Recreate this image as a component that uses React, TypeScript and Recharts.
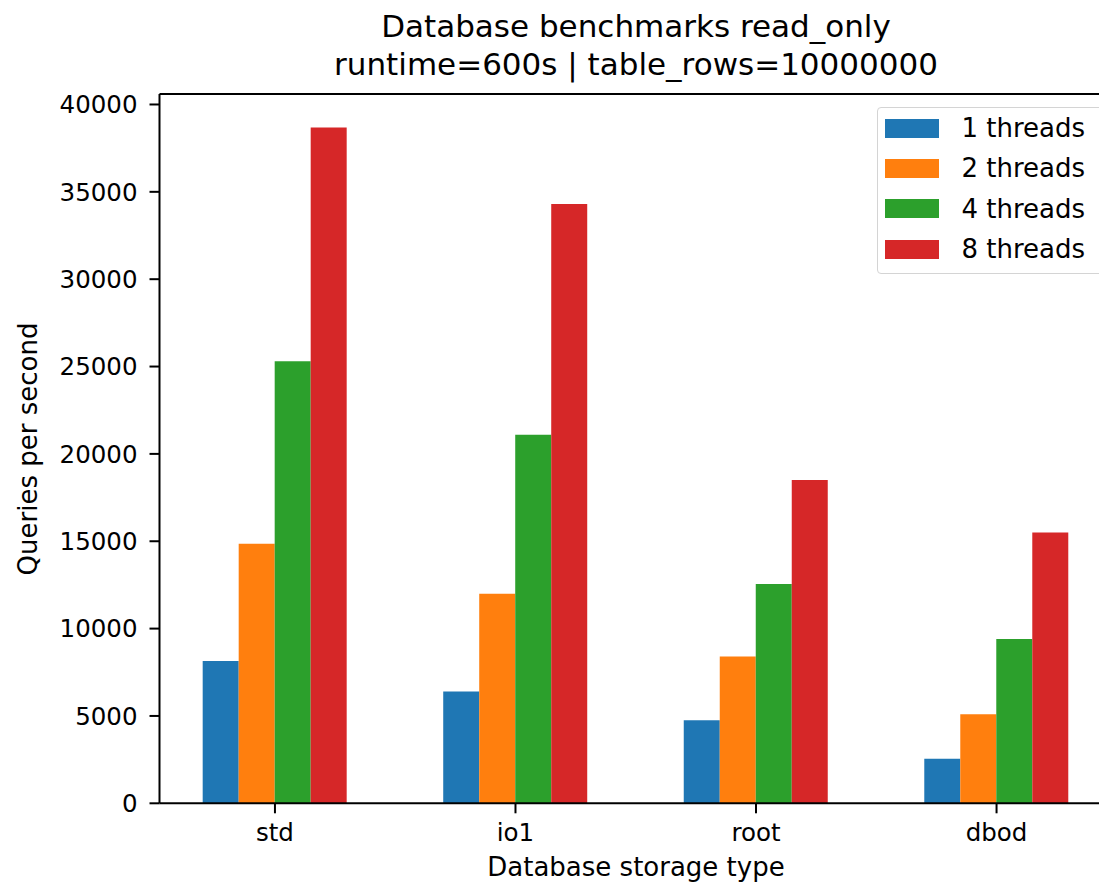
import { BarChart, Bar, XAxis, YAxis, ReferenceLine } from 'recharts';

// ─── Data ─────────────────────────────────────────────────────────────────────

const categories = ['std', 'io1', 'root', 'dbod'];
const threads1 = [8150, 6400, 4750, 2550];
const threads2 = [14850, 12000, 8400, 5100];
const threads4 = [25300, 21100, 12550, 9400];
const threads8 = [38680, 34300, 18500, 15500];
const seriesNames = ['1 threads', '2 threads', '4 threads', '8 threads'];
const yTicks = [0, 5000, 10000, 15000, 20000, 25000, 30000, 35000, 40000];
const xTicks = [0, 1, 2, 3];

// ─── Style ────────────────────────────────────────────────────────────────────

const COLORS = ['#1f77b4', '#ff7f0e', '#2ca02c', '#d62728'];
const FONT = '"DejaVu Sans", Verdana, sans-serif';
const Y_MAX = 40600;
const X_MIN = -0.48;
const X_MAX = 3.48;

const tableData = categories.map((name, i) => ({
  idx: i,
  name,
  t1: threads1[i],
  t2: threads2[i],
  t4: threads4[i],
  t8: threads8[i],
}));

const seriesKeys = ['t1', 't2', 't4', 't8'];

export default function App() {
  return (
    <div
      style={{
        position: 'absolute',
        left: 0,
        top: 0,
        width: 1099,
        height: 889,
        overflow: 'hidden',
        background: '#fff',
        fontFamily: FONT,
        color: '#000',
      }}
    >
      {/* Title */}
      <div
        style={{
          position: 'absolute',
          left: 136,
          width: 1000,
          top: 7,
          textAlign: 'center',
          fontSize: 31,
          lineHeight: '38px',
        }}
      >
        <div>Database benchmarks read_only</div>
        <div>runtime=600s | table_rows=10000000</div>
      </div>

      <BarChart
        width={1130}
        height={889}
        data={tableData}
        barGap={0}
        barSize={36}
        margin={{ top: 94, right: 18, bottom: 45.7, left: 99.5 }}
      >
        <XAxis
          dataKey="idx"
          type="number"
          domain={[X_MIN, X_MAX]}
          ticks={xTicks}
          interval={0}
          allowDataOverflow
          height={40}
          tickFormatter={(v: number) => categories[v] ?? ''}
          tick={{ fill: '#000', fontSize: 24.5, fontFamily: FONT }}
          tickSize={10}
          tickMargin={10}
          axisLine={{ stroke: '#000', strokeWidth: 2 }}
          tickLine={{ stroke: '#000', strokeWidth: 2 }}
        />
        <YAxis
          type="number"
          domain={[0, Y_MAX]}
          ticks={yTicks}
          width={60}
          allowDataOverflow
          tickFormatter={(v: number) => String(v)}
          tick={{ fill: '#000', fontSize: 24.5, fontFamily: FONT }}
          tickSize={10}
          tickMargin={12}
          axisLine={{ stroke: '#000', strokeWidth: 2 }}
          tickLine={{ stroke: '#000', strokeWidth: 2 }}
        />
        <ReferenceLine y={Y_MAX} stroke="#000" strokeWidth={2} />
        <ReferenceLine x={X_MAX} stroke="#000" strokeWidth={2} />
        {seriesKeys.map((key, i) => (
          <Bar
            key={key}
            dataKey={key}
            name={seriesNames[i]}
            fill={COLORS[i]}
            isAnimationActive={false}
          />
        ))}
      </BarChart>

      {/* Axis labels */}
      <div
        style={{
          position: 'absolute',
          left: 136,
          width: 1000,
          top: 852,
          textAlign: 'center',
          fontSize: 26,
          lineHeight: '30px',
        }}
      >
        Database storage type
      </div>
      <div
        style={{
          position: 'absolute',
          left: -172,
          top: 434,
          width: 400,
          height: 30,
          textAlign: 'center',
          fontSize: 26,
          lineHeight: '30px',
          transform: 'rotate(-90deg)',
        }}
      >
        Queries per second
      </div>

      {/* Legend */}
      <div
        style={{
          position: 'absolute',
          left: 877,
          top: 107,
          width: 240,
          height: 167,
          boxSizing: 'border-box',
          border: '1.5px solid #d4d4d4',
          borderRadius: 4,
          background: 'rgba(255,255,255,0.8)',
        }}
      >
        {seriesNames.map((name, i) => (
          <div
            key={name}
            style={{ display: 'flex', alignItems: 'center', height: 40.3 }}
          >
            <span
              style={{
                display: 'inline-block',
                marginLeft: 6.5,
                width: 54,
                height: 19,
                background: COLORS[i],
              }}
            />
            <span style={{ marginLeft: 23, fontSize: 26, lineHeight: '30px' }}>{name}</span>
          </div>
        ))}
      </div>
    </div>
  );
}
